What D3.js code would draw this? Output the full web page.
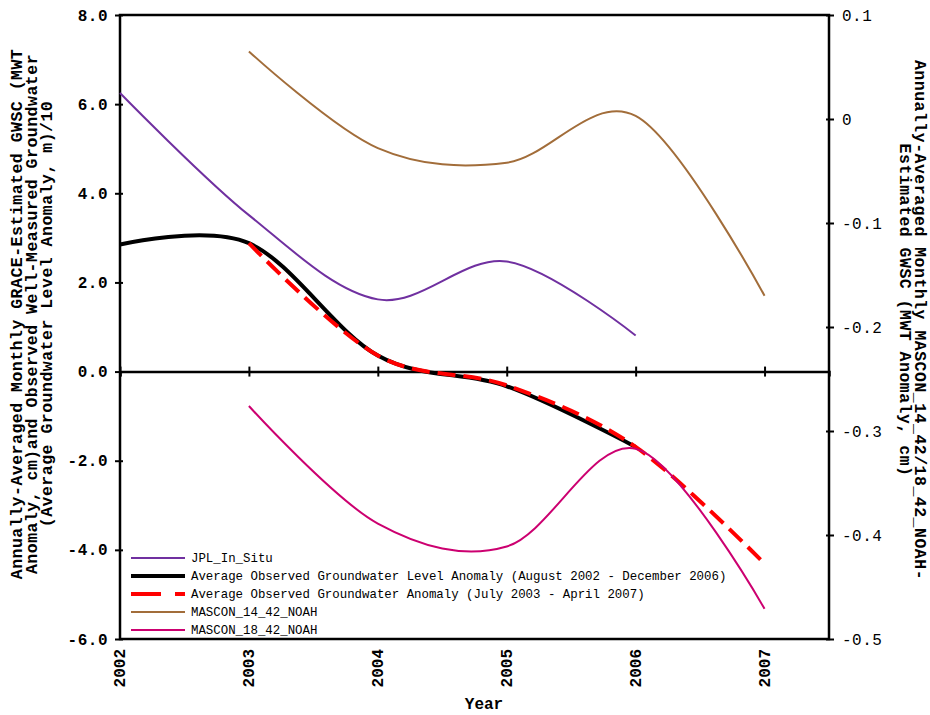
<!DOCTYPE html>
<html>
<head>
<meta charset="utf-8">
<script src="https://cdn.jsdelivr.net/npm/d3@7"></script>
<style>
body { margin: 0; background: #fff; }
text { font-family: "Liberation Mono", "Courier New", monospace; }
</style>
</head>
<body>
<div id="chart"></div>
<script>
// data
const years = [2002, 2003, 2004, 2005, 2006, 2007];
const jplInSitu = [6.25, 3.51, 1.62, 2.47, 0.81, null];
const obsLevel = [2.85, 2.88, 0.36, -0.33, -1.69, null];
const obsAnomaly = [null, 2.88, 0.36, -0.31, -1.69, -4.31];
const mascon14 = [null, 0.065, -0.028, -0.042, 0.003, -0.170];
const mascon18 = [null, -0.276, -0.389, -0.411, -0.317, -0.471];
const leftTicks = [8, 6, 4, 2, 0, -2, -4, -6];
const rightTicks = [0.1, 0, -0.1, -0.2, -0.3, -0.4, -0.5];

const w = 930, h = 715;
const svg = d3.select('#chart').append('svg')
  .attr('width', w).attr('height', h);

const x = d3.scaleLinear().domain([2002, 2007.5]).range([120, 829]);
const yL = d3.scaleLinear().domain([-6, 8]).range([639, 15]);
const yR = d3.scaleLinear().domain([-0.5, 0.1]).range([639, 15]);

const series = [
  {name: 'JPL_In_Situ', vals: jplInSitu, y: yL, color: '#7030a0', width: 2, dash: null},
  {name: 'Average Observed Groundwater Level Anomaly (August 2002 - December 2006)', vals: obsLevel, y: yL, color: '#000', width: 4, dash: null},
  {name: 'Average Observed Groundwater Anomaly (July 2003 - April 2007)', vals: obsAnomaly, y: yL, color: '#ff0000', width: 4, dash: '18,8'},
  {name: 'MASCON_14_42_NOAH', vals: mascon14, y: yR, color: '#a26d3a', width: 2, dash: null},
  {name: 'MASCON_18_42_NOAH', vals: mascon18, y: yR, color: '#cc0070', width: 2, dash: null}
];

// frame
svg.append('rect')
  .attr('x', x.range()[0]).attr('y', 15)
  .attr('width', x.range()[1] - x.range()[0]).attr('height', 624)
  .attr('fill', 'none').attr('stroke', '#000').attr('stroke-width', 2.5);

// left axis
const gl = svg.append('g').attr('transform', `translate(${x.range()[0]},0)`)
  .call(d3.axisLeft(yL).tickValues(leftTicks).tickFormat(d => d.toFixed(1)).tickSize(5).tickPadding(7));
gl.select('.domain').remove();
gl.selectAll('line').attr('x1', 3).attr('stroke-width', 2);
gl.selectAll('text').attr('font-size', 16).attr('font-weight', 'bold').attr('fill', '#000')
  .attr('letter-spacing', 0.5);

// right axis
const gr = svg.append('g').attr('transform', `translate(${x.range()[1]},0)`)
  .call(d3.axisRight(yR).tickValues(rightTicks).tickFormat(d => d === 0 ? '0' : d.toFixed(1)).tickSize(5).tickPadding(8));
gr.select('.domain').remove();
gr.selectAll('line').attr('x1', -3).attr('stroke-width', 2);
gr.selectAll('text').attr('font-size', 16).attr('fill', '#000').attr('letter-spacing', 0.5);

// x axis on zero line
const gx = svg.append('g').attr('transform', `translate(0,${yL(0)})`)
  .call(d3.axisBottom(x).tickValues(years).tickFormat('').tickSize(5));
gx.select('.domain').attr('stroke-width', 2.5);
gx.selectAll('line').attr('y1', -5).attr('stroke-width', 2);

// year labels at bottom
svg.selectAll('text.year')
  .data(years)
  .enter()
  .append('text')
  .attr('class', 'year')
  .attr('transform', d => `translate(${x(d) + 5},649) rotate(-90)`)
  .attr('text-anchor', 'end')
  .attr('font-size', 16)
  .attr('font-weight', 'bold')
  .text(d => d);

// lines
const line = d3.line()
  .x(d => x(d.yr))
  .curve(d3.curveCardinal.tension(0));

series.forEach(s => {
  const pts = years.map((yr, i) => ({yr: yr, v: s.vals[i]})).filter(d => d.v !== null);
  svg.append('path')
    .datum(pts)
    .attr('d', line.y(d => s.y(d.v)))
    .attr('fill', 'none')
    .attr('stroke', s.color)
    .attr('stroke-width', s.width)
    .attr('stroke-dasharray', s.dash);
});

// legend
const lg = svg.append('g').attr('transform', 'translate(131,558)');
series.forEach((s, i) => {
  lg.append('line')
    .attr('x1', 0).attr('x2', 54)
    .attr('y1', i * 18).attr('y2', i * 18)
    .attr('stroke', s.color)
    .attr('stroke-width', s.width)
    .attr('stroke-dasharray', s.dash ? '30,14' : null);
  lg.append('text')
    .attr('x', 60).attr('y', i * 18).attr('dy', '0.35em')
    .attr('font-size', 12.4)
    .text(s.name);
});

// axis titles
const leftTitle = ['Annually-Averaged Monthly GRACE-Estimated GWSC (MWT',
  'Anomaly, cm)and Observed Well-Measured Groundwater',
  '(Average Groundwater Level Anomaly, m)/10'];
leftTitle.forEach((t, i) => {
  svg.append('text')
    .attr('transform', `translate(${22 + i * 15},314) rotate(-90)`)
    .attr('text-anchor', 'middle')
    .attr('font-size', 16.5)
    .attr('font-weight', 'bold')
    .attr('letter-spacing', 0.5)
    .text(t);
});

const rightTitle = ['Annually-Averaged Monthly MASCON_14_42/18_42_NOAH-',
  'Estimated GWSC (MWT Anomaly, cm)'];
rightTitle.forEach((t, i) => {
  svg.append('text')
    .attr('transform', `translate(${915 - i * 15},${i === 0 ? 320 : 310}) rotate(90)`)
    .attr('text-anchor', 'middle')
    .attr('font-size', 16.5)
    .attr('font-weight', 'bold')
    .attr('letter-spacing', 0.5)
    .text(t);
});

svg.append('text')
  .attr('x', 484).attr('y', 709)
  .attr('text-anchor', 'middle')
  .attr('font-size', 16)
  .attr('font-weight', 'bold')
  .text('Year');
</script>
</body>
</html>
